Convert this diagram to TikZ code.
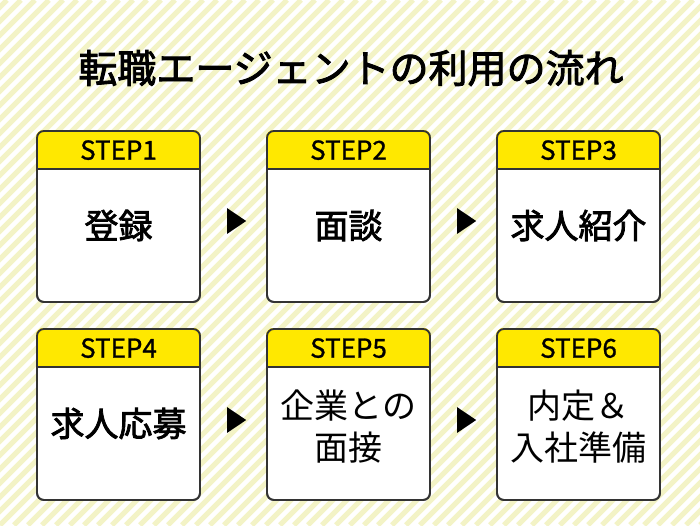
\documentclass[tikz,border=0pt]{standalone}
\usepackage{fontspec}
\setmainfont{Noto Sans CJK JP}
\newfontfamily\medfont[FakeBold=2.3]{Noto Sans CJK JP}
\newfontfamily\lblfont[FakeBold=1]{Noto Sans CJK JP}
\usetikzlibrary{shapes.geometric}
\definecolor{stripe}{HTML}{F3F3C6}
\definecolor{hdr}{HTML}{FFE800}
\definecolor{edge}{HTML}{333333}
\tikzset{
  boxshape/.style={draw=edge, line width=1.8pt, rounded corners=7pt, minimum width=163pt, minimum height=171pt, inner sep=0pt},
  hdrtext/.style={font=\lblfont\fontsize{26}{30}\selectfont, inner sep=0pt},
  bodytext/.style={font=\fontsize{34}{42}\selectfont, align=center, inner sep=0pt},
  tri/.style={isosceles triangle, isosceles triangle apex angle=68, fill=black, minimum height=19pt, inner sep=0pt, anchor=center},
  titletext/.style={font=\medfont\fontsize{39}{46}\selectfont, inner sep=0pt}
}
\newcommand{\mkstep}[6]{%
  % #1 name, #2 cx, #3 cy, #4 label, #5 body, #6 body y offset
  \node[boxshape, fill=white] (#1) at (#2,#3) {};
  \begin{scope}
    \clip[rounded corners=7pt] (#1.north west) rectangle (#1.south east);
    \fill[hdr] (#1.north west) rectangle ([yshift=-39pt]#1.north east);
  \end{scope}
  \draw[edge, line width=1.5pt] ([yshift=-39pt]#1.north west) -- ([yshift=-39pt]#1.north east);
  \node[boxshape] at (#1) {};
  \node[hdrtext] (#1-h) at ([yshift=-20pt]#1.north) {#4};
  \node[bodytext] (#1-b) at ([yshift=#6]#1.center) {#5};
}
\begin{document}
\begin{tikzpicture}[x=1pt,y=-1pt]
\useasboundingbox (0,0) rectangle (700,525);
\fill[white] (0,0) rectangle (700,525);
\begin{scope}
  \clip (0,0) rectangle (700,525);
  \foreach \i in {-40,...,52} {
    \draw[stripe, line width=5pt] (\i*14,525) -- (\i*14+525,0);
  }
\end{scope}
\node[titletext] (title) at (351,68) {転職エージェントの利用の流れ};
\mkstep{s1}{118.5}{216.5}{STEP1}{\medfont 登録}{-9pt}
\mkstep{s2}{348.5}{216.5}{STEP2}{\medfont 面談}{-9pt}
\mkstep{s3}{578.5}{216.5}{STEP3}{\medfont 求人紹介}{-9pt}
\mkstep{s4}{118.5}{414.5}{STEP4}{\medfont 求人応募}{-9pt}
\mkstep{s5}{348.5}{414.5}{STEP5}{企業との\\面接}{-12pt}
\mkstep{s6}{578.5}{414.5}{STEP6}{内定＆\\入社準備}{-12pt}
\node[tri] (a1) at (234,221) {};
\node[tri] (a2) at (464,221) {};
\node[tri] (a3) at (234,420) {};
\node[tri] (a4) at (464,420) {};
\end{tikzpicture}
\end{document}
